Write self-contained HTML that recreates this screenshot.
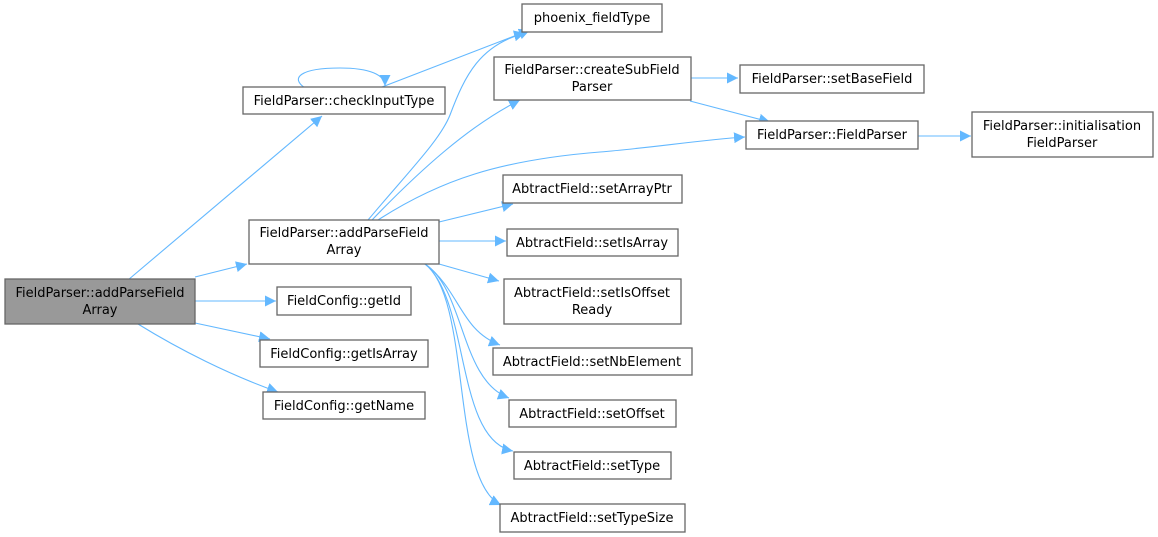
<!DOCTYPE html>
<html><head><meta charset="utf-8"><style>
html,body{margin:0;padding:0;background:#fff;}
svg{display:block;}
text{font-family:"DejaVu Sans","Liberation Sans",sans-serif;font-size:13px;fill:#000;}
.n{fill:#fff;stroke:#666;stroke-width:1.3;}
.e{fill:none;stroke:#63b8ff;stroke-width:1.1;}
</style></head><body>
<svg width="1158" height="537" viewBox="0 0 1158 537" xmlns="http://www.w3.org/2000/svg">
<defs><marker id="a" viewBox="0 0 10 10" refX="10" refY="5" markerWidth="11" markerHeight="11" markerUnits="userSpaceOnUse" orient="auto"><path d="M0,0 L10,5 L0,10 z" fill="#63b8ff"/></marker></defs>
<g class="e" marker-end="url(#a)">
<path d="M128,280 L322,116"/>
<path d="M195,277 L247,264"/>
<path d="M195,301 L276,301"/>
<path d="M195,323 L270,339"/>
<path d="M138,324 C180,350 230,375 278,392"/>
<path d="M305,88 C290,78 300,68 340,68 C370,68 385,75 385,86"/>
<path d="M382,87 L530,30"/>
<path d="M368,220 C410,170 440,140 450,115 C465,75 480,45 525,33"/>
<path d="M372,220 C420,170 470,125 520,100"/>
<path d="M378,220 C440,180 500,160 600,152 C650,148 700,140 745,137"/>
<path d="M439,222 L513,204"/>
<path d="M439,241 L506,241"/>
<path d="M439,264 L499,281"/>
<path d="M425,264 C460,290 460,330 500,345"/>
<path d="M425,264 C465,290 460,380 509,398"/>
<path d="M425,264 C470,300 455,440 513,451"/>
<path d="M425,264 C472,300 450,480 501,505"/>
<path d="M690,78 L738,78"/>
<path d="M690,101 L770,122"/>
<path d="M918,136 L971,136"/>
</g>
<rect x="5" y="279" width="190" height="45" fill="#999" stroke="#666" stroke-width="1.3"/>
<text x="100" y="297" text-anchor="middle">FieldParser::addParseField</text>
<text x="100" y="314" text-anchor="middle">Array</text>
<rect class="n" x="243" y="87" width="202" height="27"/><text x="344" y="105" text-anchor="middle">FieldParser::checkInputType</text>
<rect class="n" x="249" y="220" width="190" height="44"/><text x="344" y="237" text-anchor="middle">FieldParser::addParseField</text><text x="344" y="254" text-anchor="middle">Array</text>
<rect class="n" x="277" y="287" width="134" height="28"/><text x="344" y="305" text-anchor="middle">FieldConfig::getId</text>
<rect class="n" x="260" y="340" width="168" height="27"/><text x="344" y="358" text-anchor="middle">FieldConfig::getIsArray</text>
<rect class="n" x="263" y="392" width="162" height="27"/><text x="344" y="410" text-anchor="middle">FieldConfig::getName</text>
<rect class="n" x="522" y="4" width="140" height="28"/><text x="592" y="22" text-anchor="middle">phoenix_fieldType</text>
<rect class="n" x="494" y="57" width="197" height="43"/><text x="592" y="74" text-anchor="middle">FieldParser::createSubField</text><text x="592" y="91" text-anchor="middle">Parser</text>
<rect class="n" x="740" y="65" width="184" height="28"/><text x="832" y="83" text-anchor="middle">FieldParser::setBaseField</text>
<rect class="n" x="746" y="121" width="172" height="28"/><text x="832" y="139" text-anchor="middle">FieldParser::FieldParser</text>
<rect class="n" x="972" y="112" width="181" height="45"/><text x="1062" y="130" text-anchor="middle">FieldParser::initialisation</text><text x="1062" y="147" text-anchor="middle">FieldParser</text>
<rect class="n" x="503" y="175" width="179" height="28"/><text x="592" y="193" text-anchor="middle">AbtractField::setArrayPtr</text>
<rect class="n" x="507" y="229" width="171" height="27"/><text x="592" y="247" text-anchor="middle">AbtractField::setIsArray</text>
<rect class="n" x="504" y="279" width="177" height="45"/><text x="592" y="297" text-anchor="middle">AbtractField::setIsOffset</text><text x="592" y="314" text-anchor="middle">Ready</text>
<rect class="n" x="493" y="348" width="199" height="27"/><text x="592" y="366" text-anchor="middle">AbtractField::setNbElement</text>
<rect class="n" x="509" y="400" width="167" height="27"/><text x="592" y="418" text-anchor="middle">AbtractField::setOffset</text>
<rect class="n" x="514" y="452" width="157" height="27"/><text x="592" y="470" text-anchor="middle">AbtractField::setType</text>
<rect class="n" x="500" y="504" width="185" height="28"/><text x="592" y="522" text-anchor="middle">AbtractField::setTypeSize</text>
</svg>
</body></html>
